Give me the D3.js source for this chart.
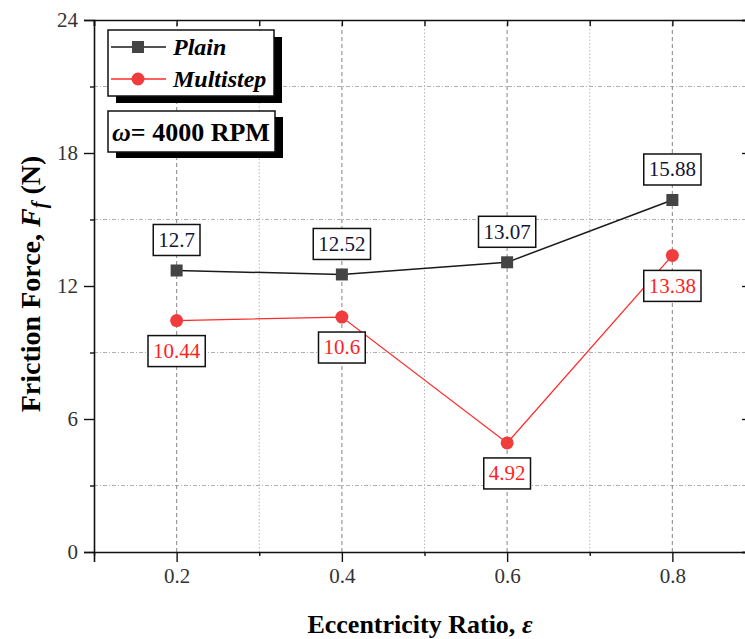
<!DOCTYPE html>
<html>
<head>
<meta charset="utf-8">
<script src="https://cdn.jsdelivr.net/npm/d3@7"></script>
<style>
  body { margin: 0; background: #fff; }
</style>
</head>
<body>
<div class="chart"></div>
<script>
const ratios = [0.2, 0.4, 0.6, 0.8]
const plain = [12.7, 12.52, 13.07, 15.88]
const multistep = [10.44, 10.6, 4.92, 13.38]
const plainLabels = ["12.7", "12.52", "13.07", "15.88"]
const multiLabels = ["10.44", "10.6", "4.92", "13.38"]
const yTicks = [0, 6, 12, 18, 24]
const yMinor = [3, 9, 15, 21]
const xTicks = [0.2, 0.4, 0.6, 0.8]
const xMinor = [0.1, 0.3, 0.5, 0.7, 0.9]

const width = 745, height = 639
const serif = '"Liberation Serif", "Times New Roman", serif'

const x = d3.scaleLinear().domain([0.1, 0.9]).range([94, 755])
const y = d3.scaleLinear().domain([0, 24]).range([552, 20])

const svg = d3.select(".chart").append("svg")
    .attr("width", width)
    .attr("height", height)
    .style("font-family", serif)

// grid
const grid = svg.append("g")
grid.selectAll(".hgrid")
    .data(yMinor)
    .join("line")
    .attr("x1", x(0.1)).attr("x2", x(0.9))
    .attr("y1", d => y(d)).attr("y2", d => y(d))
    .attr("stroke", "#b0b0b0")
    .attr("stroke-width", 1)
    .attr("stroke-dasharray", "4,2,1,2")
grid.selectAll(".vgrid")
    .data(xTicks)
    .join("line")
    .attr("x1", d => x(d)).attr("x2", d => x(d))
    .attr("y1", y(0)).attr("y2", y(24))
    .attr("stroke", "#999")
    .attr("stroke-width", 1.2)
    .attr("stroke-dasharray", "4,3")
grid.selectAll(".vgridm")
    .data(xMinor.slice(1, -1))
    .join("line")
    .attr("x1", d => x(d)).attr("x2", d => x(d))
    .attr("y1", y(0)).attr("y2", y(24))
    .attr("stroke", "#b8b8b8")
    .attr("stroke-width", 1)
    .attr("stroke-dasharray", "1.5,2")

// axes
const axisColor = "#111"
const bottomAxis = svg.append("g")
    .attr("transform", `translate(0,${y(0)})`)
    .call(d3.axisBottom(x).tickValues(xTicks).tickSize(10).tickPadding(6).tickFormat(d3.format(".1f")))
bottomAxis.append("g").call(d3.axisBottom(x).tickValues(xMinor).tickSize(4).tickFormat(""))
    .select(".domain").remove()

const leftAxis = svg.append("g")
    .attr("transform", `translate(${x(0.1)},0)`)
    .call(d3.axisLeft(y).tickValues(yTicks).tickSize(10).tickPadding(6))
leftAxis.append("g").call(d3.axisLeft(y).tickValues(yMinor).tickSize(4).tickFormat(""))
    .select(".domain").remove()

const topAxis = svg.append("g")
    .attr("transform", `translate(0,${y(24)})`)
    .call(d3.axisBottom(x).tickValues(xTicks.concat(xMinor)).tickSize(6).tickFormat(""))

const rightAxis = svg.append("g")
    .attr("transform", `translate(${x(0.9)},0)`)
    .call(d3.axisLeft(y).tickValues(yTicks).tickSize(13).tickFormat(""))

svg.selectAll(".domain").attr("stroke", axisColor).attr("stroke-width", 1.6)
svg.selectAll(".tick line").attr("stroke", axisColor).attr("stroke-width", 1.4)
svg.selectAll(".tick text")
    .attr("fill", "#333")
    .attr("font-size", 21)
    .style("font-family", serif)
svg.selectAll("g").attr("font-family", null)

// axis titles
svg.append("text")
    .attr("transform", `translate(40,284) rotate(-90)`)
    .attr("text-anchor", "middle")
    .attr("font-size", 28)
    .attr("font-weight", "bold")
    .style("font-family", serif)
    .call(t => {
        t.append("tspan").text("Friction Force, ")
        t.append("tspan").attr("font-style", "italic").text("F")
        t.append("tspan").attr("font-style", "italic").attr("font-size", 20).attr("dy", 6).text("f")
        t.append("tspan").attr("dy", -6).text(" (N)")
    })

svg.append("text")
    .attr("x", 420)
    .attr("y", 633)
    .attr("text-anchor", "middle")
    .attr("font-size", 26)
    .attr("font-weight", "bold")
    .style("font-family", serif)
    .call(t => {
        t.append("tspan").text("Eccentricity Ratio, ")
        t.append("tspan").attr("font-style", "italic").text("ε")
    })

// lines
const plainColor = "#444", plainLine = "#1a1a1a", redColor = "#f03c3c", redLine = "#ff2a2a"
const line = d3.line().x(d => x(d[0])).y(d => y(d[1]))

svg.append("path")
    .datum(d3.zip(ratios, plain))
    .attr("d", line)
    .attr("fill", "none")
    .attr("stroke", plainLine)
    .attr("stroke-width", 1.5)

svg.append("path")
    .datum(d3.zip(ratios, multistep))
    .attr("d", line)
    .attr("fill", "none")
    .attr("stroke", redLine)
    .attr("stroke-width", 1.3)

svg.append("g")
    .selectAll("rect")
    .data(d3.zip(ratios, plain))
    .join("rect")
    .attr("x", d => x(d[0]) - 6)
    .attr("y", d => y(d[1]) - 6)
    .attr("width", 12)
    .attr("height", 12)
    .attr("fill", plainColor)

svg.append("g")
    .selectAll("circle")
    .data(d3.zip(ratios, multistep))
    .join("circle")
    .attr("cx", d => x(d[0]))
    .attr("cy", d => y(d[1]))
    .attr("r", 6.5)
    .attr("fill", redColor)

// value labels
const drawLabel = (cx, cy, text, color) => {
    const g = svg.append("g")
    const rect = g.append("rect")
    const t = g.append("text")
        .attr("x", cx)
        .attr("y", cy)
        .attr("dy", "0.35em")
        .attr("text-anchor", "middle")
        .attr("font-size", 21)
        .attr("fill", color)
        .style("font-family", serif)
        .text(text)
    const w = t.node().getComputedTextLength() + 10
    rect.attr("x", cx - w / 2)
        .attr("y", cy - 15)
        .attr("width", w)
        .attr("height", 31)
        .attr("fill", "#fff")
        .attr("stroke", "#111")
        .attr("stroke-width", 1.5)
}

ratios.forEach((r, i) => {
    drawLabel(x(r), y(plain[i]) - 31, plainLabels[i], "#141432")
    drawLabel(x(r), y(multistep[i]) + 30, multiLabels[i], "#ff1f1f")
})

// legend
const legend = svg.append("g")
legend.append("rect")
    .attr("x", 116).attr("y", 37).attr("width", 166).attr("height", 66)
    .attr("fill", "#000")
legend.append("rect")
    .attr("x", 108).attr("y", 30).attr("width", 166).attr("height", 66)
    .attr("fill", "#fff").attr("stroke", "#111").attr("stroke-width", 1.5)

const entries = [
    { name: "Plain", color: plainLine, fill: plainColor, shape: "square", yy: 47 },
    { name: "Multistep", color: redLine, fill: redColor, shape: "circle", yy: 79 }
]
entries.forEach(e => {
    legend.append("line")
        .attr("x1", 111).attr("x2", 166)
        .attr("y1", e.yy).attr("y2", e.yy)
        .attr("stroke", e.color).attr("stroke-width", 1.5)
    if (e.shape === "square") {
        legend.append("rect")
            .attr("x", 132).attr("y", e.yy - 6).attr("width", 12).attr("height", 12)
            .attr("fill", e.fill)
    } else {
        legend.append("circle")
            .attr("cx", 138).attr("cy", e.yy).attr("r", 6.5)
            .attr("fill", e.fill)
    }
    legend.append("text")
        .attr("x", 173).attr("y", e.yy)
        .attr("dy", "0.35em")
        .attr("font-size", 24)
        .attr("font-weight", "bold")
        .attr("font-style", "italic")
        .style("font-family", serif)
        .text(e.name)
})

const speed = svg.append("g")
speed.append("rect")
    .attr("x", 116).attr("y", 117).attr("width", 167).attr("height", 41)
    .attr("fill", "#000")
speed.append("rect")
    .attr("x", 108).attr("y", 111).attr("width", 167).attr("height", 41)
    .attr("fill", "#fff").attr("stroke", "#111").attr("stroke-width", 1.5)
speed.append("text")
    .attr("x", 112).attr("y", 132)
    .attr("dy", "0.35em")
    .attr("font-size", 26)
    .attr("font-weight", "bold")
    .style("font-family", serif)
    .call(t => {
        t.append("tspan").attr("font-style", "italic").text("ω")
        t.append("tspan").text("= 4000 RPM")
    })
</script>
</body>
</html>
